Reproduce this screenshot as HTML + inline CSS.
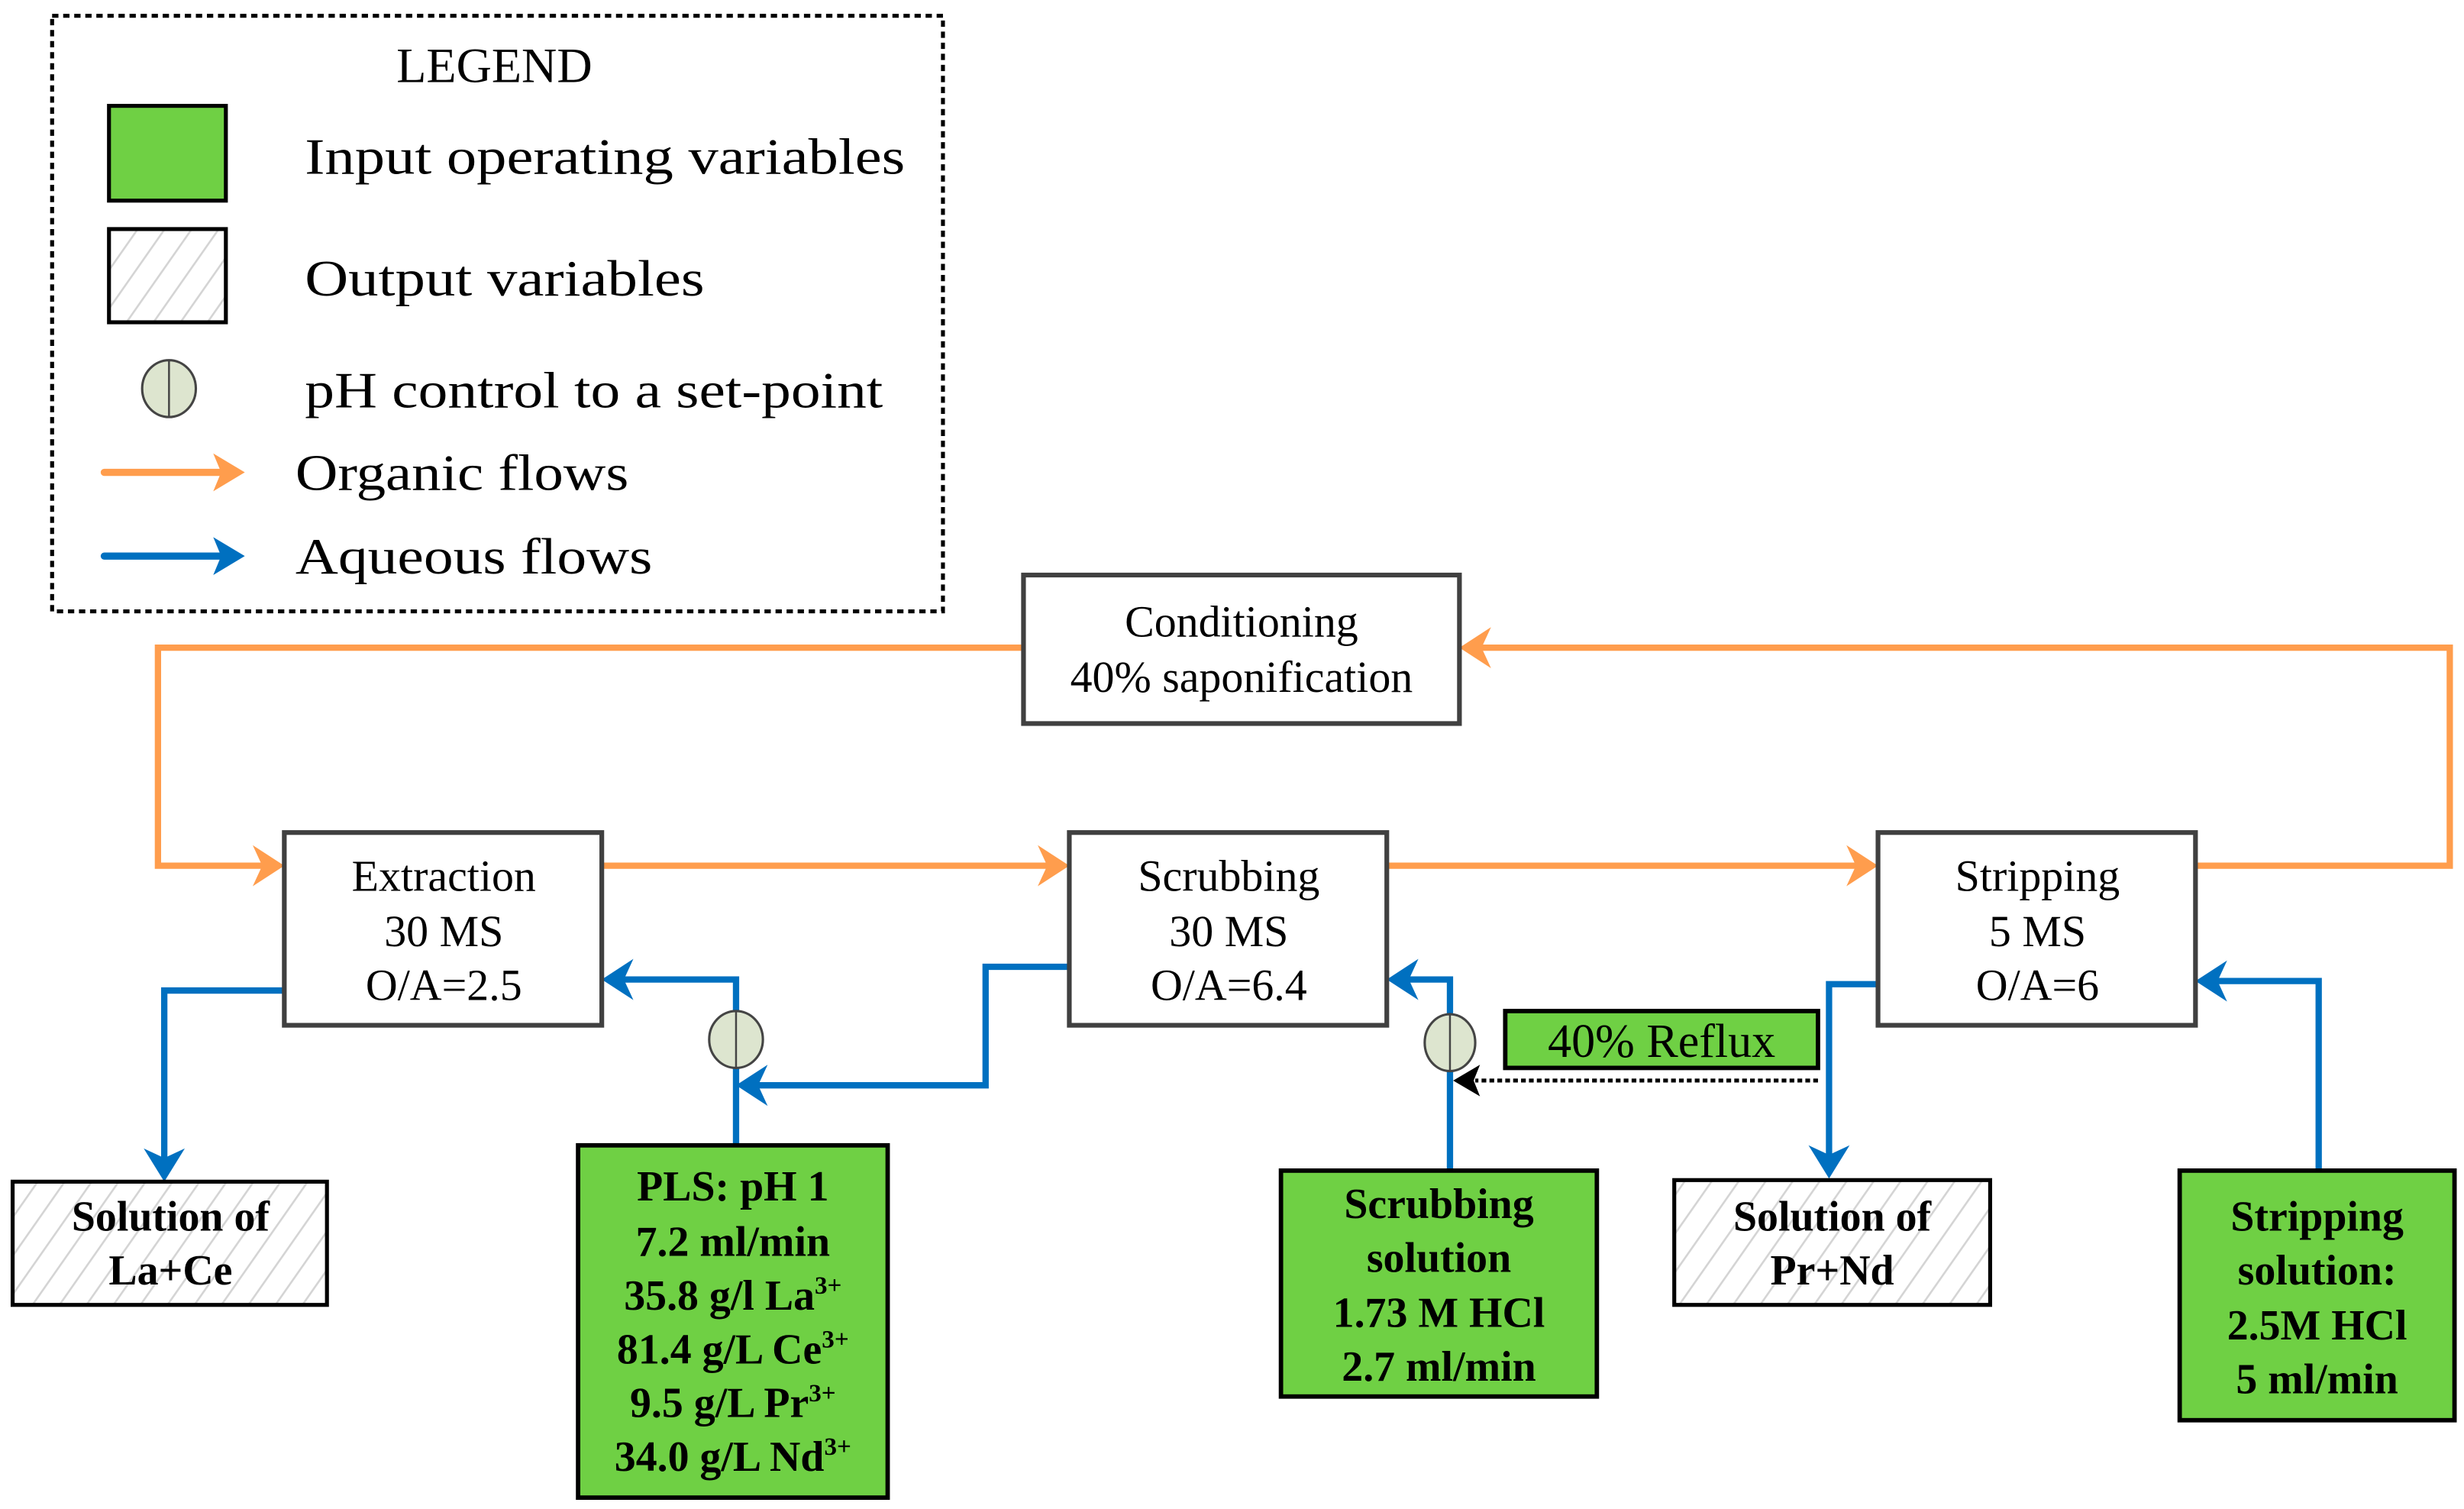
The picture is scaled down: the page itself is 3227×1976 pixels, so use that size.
<!DOCTYPE html>
<html><head><meta charset="utf-8"><style>
html,body{margin:0;padding:0;background:#fff;}
svg{display:block;}
text{font-family:"Liberation Serif",serif;fill:#000;}
.b{font-weight:bold;}
</style></head><body>
<svg width="3227" height="1976" viewBox="0 0 1560 955.2" preserveAspectRatio="none" xmlns="http://www.w3.org/2000/svg">
<defs>
<pattern id="h" width="14" height="14" patternUnits="userSpaceOnUse" patternTransform="rotate(35)">
<rect width="14" height="14" fill="#fff"/>
<line x1="0" y1="0" x2="0" y2="14" stroke="#d4d4d4" stroke-width="2.5"/>
</pattern>
</defs>

<!-- Legend -->
<rect x="33" y="10" width="564" height="377" fill="none" stroke="#000" stroke-width="2.5" stroke-dasharray="4,3"/>
<text x="313" y="52" font-size="31" text-anchor="middle">LEGEND</text>
<rect x="69" y="67" width="74" height="60" fill="#6fd044" stroke="#000" stroke-width="2.5"/>
<text x="193" y="110" font-size="32" textLength="380" lengthAdjust="spacingAndGlyphs">Input operating variables</text>
<rect x="69" y="145" width="74" height="59" fill="url(#h)" stroke="#000" stroke-width="2.5"/>
<text x="193" y="187" font-size="32" textLength="253" lengthAdjust="spacingAndGlyphs">Output variables</text>
<ellipse cx="107" cy="246" rx="17" ry="18" fill="#dde5cf" stroke="#444" stroke-width="1.5"/>
<line x1="107" y1="228" x2="107" y2="264" stroke="#444" stroke-width="1.2"/>
<text x="193" y="258" font-size="32" textLength="366" lengthAdjust="spacingAndGlyphs">pH control to a set-point</text>
<line x1="66" y1="299" x2="140" y2="299" stroke="#ff9d4d" stroke-width="4.5" stroke-linecap="round"/>
<polygon points="155,299 135,287 140,299 135,311" fill="#ff9d4d"/>
<text x="187" y="310" font-size="32" textLength="211" lengthAdjust="spacingAndGlyphs">Organic flows</text>
<line x1="66" y1="352" x2="140" y2="352" stroke="#0070c0" stroke-width="4.5" stroke-linecap="round"/>
<polygon points="155,352 135,340 140,352 135,364" fill="#0070c0"/>
<text x="187" y="363" font-size="32" textLength="226" lengthAdjust="spacingAndGlyphs">Aqueous flows</text>

<!-- Organic flows -->
<g stroke="#ff9d4d" stroke-width="4" fill="none">
<polyline points="648,410 100,410 100,548 170,548"/>
<line x1="381" y1="548" x2="667" y2="548"/>
<line x1="878" y1="548" x2="1179" y2="548"/>
<polyline points="1390,548 1551,548 1551,410 934,410"/>
</g>
<g fill="#ff9d4d">
<polygon points="180,548 160,535 166,548 160,561"/>
<polygon points="677,548 657,535 663,548 657,561"/>
<polygon points="1189,548 1169,535 1175,548 1169,561"/>
<polygon points="924,410 944,397 938,410 944,423"/>
</g>

<!-- Aqueous flows -->
<g stroke="#0070c0" stroke-width="4" fill="none">
<polyline points="181,627 104,627 104,738"/>
<polyline points="466,724 466,620 391,620"/>
<polyline points="677,612 624,612 624,687 476,687"/>
<polyline points="918,741 918,620 888,620"/>
<polyline points="1189,623 1158,623 1158,736"/>
<polyline points="1468,741 1468,621 1400,621"/>
</g>
<g fill="#0070c0">
<polygon points="104,748 91,727 104,733 117,727"/>
<polygon points="381,620 401,607 395,620 401,633"/>
<polygon points="466,687 486,674 480,687 486,700"/>
<polygon points="878,620 898,607 892,620 898,633"/>
<polygon points="1158,746 1145,725 1158,731 1171,725"/>
<polygon points="1390,621 1410,608 1404,621 1410,634"/>
</g>

<!-- pH circles -->
<ellipse cx="466" cy="658" rx="17" ry="18" fill="#dde5cf" stroke="#444" stroke-width="1.5"/>
<line x1="466" y1="640" x2="466" y2="676" stroke="#444" stroke-width="1.2"/>
<ellipse cx="918" cy="660" rx="16" ry="18" fill="#dde5cf" stroke="#444" stroke-width="1.5"/>
<line x1="918" y1="642" x2="918" y2="678" stroke="#444" stroke-width="1.2"/>

<!-- Dotted reflux arrow -->
<line x1="1151" y1="684" x2="934" y2="684" stroke="#000" stroke-width="2.5" stroke-dasharray="3,2"/>
<polygon points="920,684 937,674 933,684 937,694" fill="#000"/>

<!-- Process boxes -->
<g fill="#fff" stroke="#404040" stroke-width="3">
<rect x="648" y="364" width="276" height="94"/>
<rect x="180" y="527" width="201" height="122"/>
<rect x="677" y="527" width="201" height="122"/>
<rect x="1189" y="527" width="201" height="122"/>
</g>
<g font-size="28" text-anchor="middle">
<text x="786" y="403">Conditioning</text>
<text x="786" y="438">40% saponification</text>
<text x="281" y="564">Extraction</text>
<text x="281" y="599">30 MS</text>
<text x="281" y="633">O/A=2.5</text>
<text x="778" y="564">Scrubbing</text>
<text x="778" y="599">30 MS</text>
<text x="778" y="633">O/A=6.4</text>
<text x="1290" y="564">Stripping</text>
<text x="1290" y="599">5 MS</text>
<text x="1290" y="633">O/A=6</text>
</g>

<!-- Output boxes -->
<rect x="8" y="748" width="199" height="78" fill="url(#h)" stroke="#000" stroke-width="2.5"/>
<rect x="1060" y="747" width="200" height="79" fill="url(#h)" stroke="#000" stroke-width="2.5"/>
<g font-size="27" text-anchor="middle" class="b">
<text x="108" y="779" class="b">Solution of</text>
<text x="108" y="813" class="b">La+Ce</text>
<text x="1160" y="779" class="b">Solution of</text>
<text x="1160" y="813" class="b">Pr+Nd</text>
</g>

<!-- Input boxes -->
<g fill="#6fd044" stroke="#000" stroke-width="2.8">
<rect x="366" y="725" width="196" height="223"/>
<rect x="811" y="741" width="200" height="143"/>
<rect x="1380" y="741" width="174" height="158"/>
<rect x="953" y="640" width="198" height="36"/>
</g>
<text x="1052" y="669" font-size="30" text-anchor="middle">40% Reflux</text>
<g font-size="27" text-anchor="middle" class="b">
<text x="464" y="760" class="b">PLS: pH 1</text>
<text x="464" y="795" class="b">7.2 ml/min</text>
<text x="464" y="829" class="b">35.8 g/l La<tspan font-size="16" dy="-10">3+</tspan></text>
<text x="464" y="863" class="b">81.4 g/L Ce<tspan font-size="16" dy="-10">3+</tspan></text>
<text x="464" y="897" class="b">9.5 g/L Pr<tspan font-size="16" dy="-10">3+</tspan></text>
<text x="464" y="931" class="b">34.0 g/L Nd<tspan font-size="16" dy="-10">3+</tspan></text>
<text x="911" y="771" class="b">Scrubbing</text>
<text x="911" y="805" class="b">solution</text>
<text x="911" y="840" class="b">1.73 M HCl</text>
<text x="911" y="874" class="b">2.7 ml/min</text>
<text x="1467" y="779" class="b">Stripping</text>
<text x="1467" y="813" class="b">solution:</text>
<text x="1467" y="848" class="b">2.5M HCl</text>
<text x="1467" y="882" class="b">5 ml/min</text>
</g>
</svg>
</body></html>
